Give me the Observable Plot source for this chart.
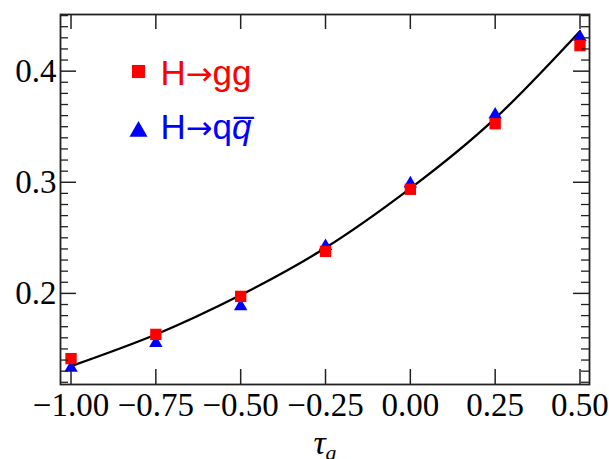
<!DOCTYPE html>
<html><head><meta charset="utf-8">
<script src="https://cdn.jsdelivr.net/npm/d3@7"></script>
<script src="https://cdn.jsdelivr.net/npm/@observablehq/plot@0.6"></script>
<style>body{margin:0;background:#fff}</style>
</head><body><div id="chart"></div>
<script>
// ---- data ----
const tauValues = [-1, -0.75, -0.5, -0.25, 0, 0.25, 0.5];
const ggValues  = [0.1413, 0.1631, 0.1973, 0.2378, 0.2937, 0.3527, 0.4230];
const qqValues  = [0.1329, 0.1553, 0.1883, 0.2425, 0.2988, 0.3608, 0.4306];
const fitValues = [0.1345, 0.1630, 0.1985, 0.2410, 0.2945, 0.3575, 0.4360];
const xTicks = [-1, -0.75, -0.5, -0.25, 0, 0.25, 0.5];
const yMajorTicks = [0.2, 0.3, 0.4];
const yMinorTicks = [0.12,0.13,0.14,0.15,0.16,0.17,0.18,0.19,
  0.21,0.22,0.23,0.24,0.25,0.26,0.27,0.28,0.29,
  0.31,0.32,0.33,0.34,0.35,0.36,0.37,0.38,0.39,
  0.41,0.42,0.43,0.44,0.45];
const legendLabels = ["H\u2192gg", "H\u2192qq\u0305"];
const seriesColors = ["#ff0000", "#0000ff"];
const xLabel = "\u03C4a";

// ---- build ----
const W = 609, H = 459, mL = 60, mR = 20, mT = 14, mB = 75;
const fw = W - mL - mR, fh = H - mT - mB;
const gg = tauValues.map((x, i) => ({x, y: ggValues[i]}));
const qq = tauValues.map((x, i) => ({x, y: qqValues[i]}));
const fit = tauValues.map((x, i) => ({x, y: fitValues[i]}));
const axisColor = "#222";
const legendFont = "'Liberation Sans', Arial, sans-serif";

const svg = Plot.plot({
  width: W, height: H,
  marginLeft: mL, marginRight: mR, marginTop: mT, marginBottom: mB,
  x: {domain: [-1.031, 0.528]},
  y: {domain: [0.118, 0.451]},
  style: {background: "white", fontFamily: "'Liberation Serif', 'Times New Roman', serif", color: "black"},
  marks: [
    Plot.line(fit, {x: "x", y: "y", curve: "natural", stroke: "black", strokeWidth: 2.3}),
    Plot.dot(qq, {x: "x", y: "y", symbol: "triangle", r: 5, fill: seriesColors[1]}),
    Plot.dot(gg, {x: "x", y: "y", symbol: "square", r: 6.4, fill: seriesColors[0]}),
    Plot.tickX(xTicks, {x: d => d, insetTop: fh - 15, stroke: axisColor, strokeWidth: 1.5}),
    Plot.tickX(xTicks, {x: d => d, insetBottom: fh - 15, stroke: axisColor, strokeWidth: 1.5}),
    Plot.tickY(yMajorTicks, {y: d => d, insetRight: fw - 16, stroke: axisColor, strokeWidth: 1.5}),
    Plot.tickY(yMajorTicks, {y: d => d, insetLeft: fw - 16, stroke: axisColor, strokeWidth: 1.5}),
    Plot.tickY(yMinorTicks, {y: d => d, insetRight: fw - 8, stroke: axisColor, strokeWidth: 1.3}),
    Plot.tickY(yMinorTicks, {y: d => d, insetLeft: fw - 8, stroke: axisColor, strokeWidth: 1.3}),
    Plot.frame({stroke: axisColor, strokeWidth: 1.8}),
    Plot.axisX(xTicks, {anchor: "bottom", label: null, tickSize: 0, tickPadding: 8, tickFormat: d3.format(".2f"), fontSize: 33, letterSpacing: 2.2}),
    Plot.axisY(yMajorTicks, {anchor: "left", label: null, tickSize: 0, tickPadding: 4, tickFormat: d3.format(".1f"), fontSize: 33, letterSpacing: 2.2}),
    Plot.text([xLabel], {frameAnchor: "bottom", lineAnchor: "bottom", dy: 69, text: d => d, fontSize: 34, fontStyle: "italic"}),
    // legend
    Plot.dot([legendLabels[0]], {frameAnchor: "top-left", dx: 78, dy: 57, symbol: "square", r: 7.4, fill: seriesColors[0]}),
    Plot.dot([legendLabels[1]], {frameAnchor: "top-left", dx: 78, dy: 117, symbol: "triangle", r: 6.7, fill: seriesColors[1]}),
    Plot.text([legendLabels[0]], {frameAnchor: "top-left", lineAnchor: "top", dx: 100, dy: 46, text: d => d, textAnchor: "start", fill: seriesColors[0], fontSize: 35, fontFamily: legendFont}),
    Plot.text([legendLabels[1]], {frameAnchor: "top-left", lineAnchor: "top", dx: 100, dy: 100, text: d => d, textAnchor: "start", fill: seriesColors[1], fontSize: 35, fontFamily: legendFont})
  ]
});

// rich text: wide arrow, overlined italic q, subscripted tau
d3.select(svg).selectAll("text").each(function() {
  const t = d3.select(this);
  const s = this.textContent;
  if (s === legendLabels[0]) {
    t.text(null);
    t.append("tspan").text("H");
    t.append("tspan").attr("font-family", "'DejaVu Sans'").attr("font-size", 32).text("\u2192");
    t.append("tspan").text("gg");
  } else if (s === legendLabels[1]) {
    t.text(null);
    t.append("tspan").text("H");
    t.append("tspan").attr("font-family", "'DejaVu Sans'").attr("font-size", 32).text("\u2192");
    t.append("tspan").text("q");
    t.append("tspan").attr("font-style", "italic").text("q\u0305");
  } else if (s === xLabel) {
    t.text(null);
    t.append("tspan").text("\u03C4");
    t.append("tspan").attr("font-size", 22).attr("dy", "0.3em").text("a");
  }
});

document.getElementById("chart").appendChild(svg);
</script>
</body></html>
